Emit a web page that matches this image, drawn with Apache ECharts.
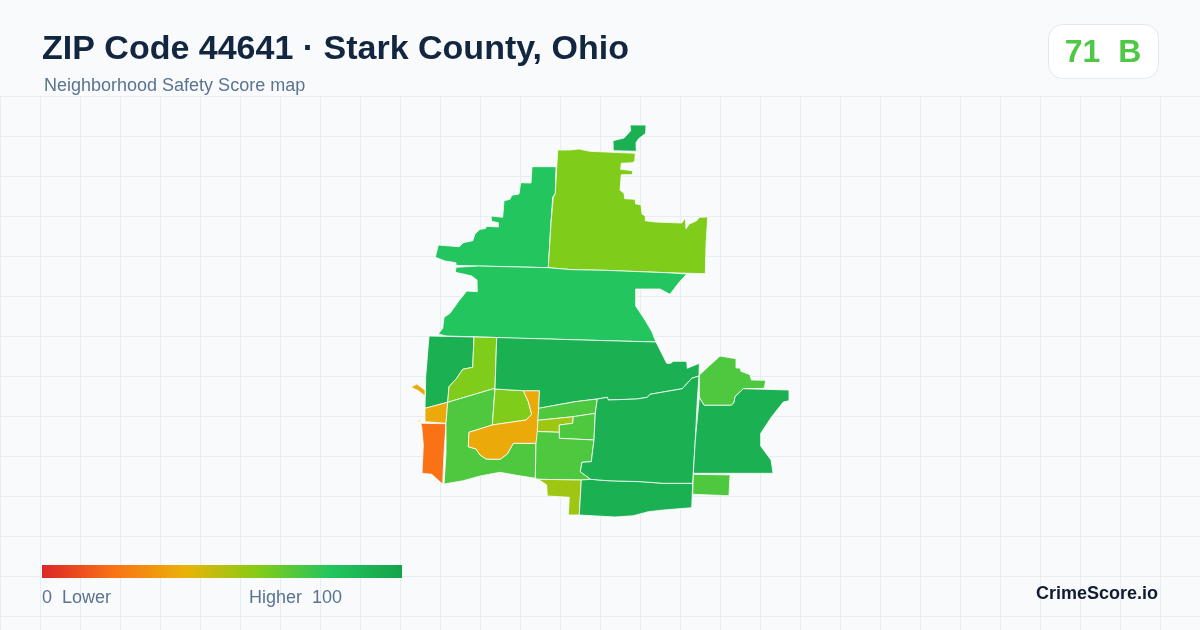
<!DOCTYPE html>
<html>
<head>
<meta charset="utf-8">
<style>html,body{margin:0;padding:0;background:#f8fafc}#c{width:1200px;height:630px}</style>
<script src="https://cdn.jsdelivr.net/npm/echarts@6/dist/echarts.min.js"></script>
</head>
<body>
<div id="c"></div>
<script>
var titleText = 'ZIP Code 44641 · Stark County, Ohio';
var subtitleText = 'Neighborhood Safety Score map';
var badgeText = '71  B';
var brandText = 'CrimeScore.io';
var legendLow = '0  Lower';
var legendHigh = 'Higher  100';
var scaleColors = ['#dc2626', '#f97316', '#eab308', '#84cc16', '#22c55e', '#16a34a'];

// Block-group names and their scores
var regionNames = ['A','B','C','D','E','F','G','H','I','J','K','L','M','N','O','P','Q','R','S','T','U','V'];
var regionScores = [80,61,92,80,92,61,37,20,71,61,37,92,71,55,71,71,55,92,92,71,92,71];

// Outline of each block group, in map units (x east, y south)
var shapeA = [[[[556,166.7],[532,166.7],[531,183],[520.7,182.7],[519,194],[511.7,195.3],[510,199.3],[504,200.7],[502.7,217.3],[491,216],[491.7,221.3],[498.3,222.7],[498.3,227],[486.7,226.3],[485.3,228.7],[480,229.3],[475,234],[472.7,240.7],[463.3,242.7],[459.3,246.7],[453.3,246.3],[438.3,245],[435.3,257.3],[445,261],[456,262.7],[456,265.3],[478.3,266],[506.7,266.7],[548.3,267.7],[550.7,226.7],[552.7,197.3],[555.3,193.3]]]];
var shapeB = [[[[557.7,150],[570,150],[570,149],[579,149],[579,150],[590,151.3],[635.3,153.3],[634.7,160.7],[632.7,162.7],[621.3,163.3],[620.7,169.3],[632.7,170.7],[632.3,174.7],[621.3,174.7],[620,190],[624,193.3],[624.7,198.7],[635,199.3],[635.7,204],[641,204.7],[642,214],[645.3,216],[645.3,220.7],[655,222],[681.7,223],[685.3,218],[686,228.7],[689.3,224],[696.7,220.7],[699.3,217.3],[707.7,217],[706,245],[705.3,273.7],[666.7,272.7],[640,271.7],[605,270.3],[571.7,269.7],[548.3,267.7],[551,223],[553.3,197.3],[555.3,193.3]]]];
var shapeC = [[[[630,125],[646,125],[645.7,133.3],[638.7,138.7],[636,142.7],[636.3,151.3],[613.3,150.7],[613,140.7],[624,138],[630.7,130.7]]]];
var shapeD = [[[[456,267.3],[455.3,272.3],[463.3,274],[471.7,276],[477,280],[477.3,291.7],[466.7,291],[458.3,301.7],[450,313.3],[444,317.3],[442.7,328.3],[438.3,334],[446,336],[475,336.8],[496.7,337.5],[515,338.3],[548.3,339],[600,340.5],[656,342],[652,332],[645,320],[635.7,306],[635.7,289],[660,289],[670,294.3],[678.3,283.3],[686.7,274],[666.7,272.7],[640,271.7],[605,270.3],[571.7,269.7],[548.3,267.7],[506.7,266.7],[478.3,266]]]];
var shapeE = [[[[429,336],[474,337],[472.7,367.3],[462.7,369.3],[456.7,378.3],[449,386.7],[447.7,402.3],[425,408.3],[425.7,376.7]]]];
var shapeF = [[[[474,337],[496.7,337.5],[495,388.3],[447.7,402.3],[449,386.7],[456.7,378.3],[462.7,369.3],[472.7,367.3]]]];
var shapeG = [[[[425,408.3],[447.7,402.3],[446,423.3],[425,421.7]]],[[[411,387.3],[416.7,384],[425,390],[425,396],[418.3,390.7]]],[[[418,421.7],[419.3,419],[420.7,421.7]]]];
var shapeH = [[[[420.7,423.3],[446,423.7],[444,453.3],[442.7,484.3],[431.7,474.3],[422,473.3],[423.3,445],[421.7,426.7]]]];
var shapeI = [[[[447.7,402.3],[495,388.3],[492.3,425],[469,432.3],[468.3,446.7],[476,449],[480,455],[486,459],[500,459.3],[507.3,454],[513.3,443.3],[536,443.3],[535.3,478.3],[515,475],[500,472.3],[480,476],[463.3,480.7],[444,484],[446,453.3],[446,423.3]]]];
var shapeJ = [[[[495,389],[523.3,390.7],[528.3,401.7],[531.7,414.3],[526,420],[492.3,425]]]];
var shapeK = [[[[523.3,390.7],[539.5,390.7],[538.7,408.3],[537.3,435],[536,443.3],[513.3,443.3],[507.3,454],[500,459.3],[486,459],[480,455],[476,449],[468.3,446.7],[469,432.3],[492.3,425],[526,420],[531.7,414.3],[528.3,401.7]]]];
var shapeL = [[[[496.7,337.5],[548.3,339],[600,340.5],[656,342],[666.7,363.3],[670.7,363.3],[673.3,361.3],[686.7,361.3],[687.3,368.3],[699.3,363.3],[699,376],[691.7,378.3],[682.3,388.7],[650,394.3],[647.3,397.3],[636.7,399],[608.3,400],[607.3,397.3],[597.3,399],[575,401.7],[538.7,408.3],[539.5,390.7],[523.3,390.7],[495,389]]]];
var shapeM = [[[[538.7,408.3],[575,401.7],[597.3,399],[595.3,413.3],[573.3,416.7],[537.8,420.3]]]];
var shapeN = [[[[537.8,420.3],[573.3,416.7],[572.7,423.3],[559.3,425],[559.3,432.3],[537.3,431.5]]]];
var shapeO = [[[[573.3,416.7],[595.3,413.3],[594,440],[559.3,438.3],[559.3,425],[572.7,423.3]]]];
var shapeP = [[[[537.3,431.5],[559.3,432.3],[559.3,438.3],[594,440],[591.3,461.7],[582,462.3],[580.3,471.7],[590.7,479.3],[581.3,480],[538.3,479.3],[535.3,478.3],[536,443.3]]]];
var shapeQ = [[[[538.3,479.3],[581.3,480],[579.3,515],[568.3,515],[569.3,497.3],[547.3,496],[546.7,485]]]];
var shapeR = [[[[581.3,480],[590.7,479.3],[608,480.7],[641.7,481.7],[663,483.3],[692.7,483.3],[691.7,507.7],[663.3,510],[648.3,511.7],[633.3,515.7],[615,517],[579.3,515]]]];
var shapeS = [[[[597.3,399],[607.3,397.3],[608.3,400],[636.7,399],[647.3,397.3],[650,394.3],[682.3,388.7],[691.7,378.3],[699,376],[697.3,400],[695.3,440],[693.3,473.3],[692.7,483.3],[663,483.3],[641.7,481.7],[608,480.7],[590.7,479.3],[580.3,471.7],[582,462.3],[591.3,461.7],[594,440],[595.3,413.3]]]];
var shapeT = [[[[699.3,375],[720,356],[736,358.7],[736,368],[740,368],[741,371.3],[750,374.7],[751.3,380],[765.7,380.3],[764.3,388.3],[743.3,388.7],[735,396.7],[734,402.7],[731.3,405.3],[704,405.3],[699.3,397.3]]]];
var shapeU = [[[[699.3,397.3],[704,405.3],[731.3,405.3],[734,402.7],[735,396.7],[743.3,388.7],[789,390],[789,400.7],[783.3,402],[771.7,416.7],[760.7,433.3],[760.7,446],[771,460],[771.7,464],[773,473.3],[740,473.3],[693.3,473.3],[695.3,440]]]];
var shapeV = [[[[693.3,474.3],[735,475],[730,475.5],[729,495.7],[692.7,494.3]]]];
var regionShapes = [shapeA,shapeB,shapeC,shapeD,shapeE,shapeF,shapeG,shapeH,shapeI,shapeJ,shapeK,shapeL,shapeM,shapeN,shapeO,shapeP,shapeQ,shapeR,shapeS,shapeT,shapeU,shapeV];

var features = regionNames.map(function (name, i) {
  return {
    type: 'Feature',
    properties: { name: name },
    geometry: {
      type: 'MultiPolygon',
      coordinates: regionShapes[i].map(function (poly) {
        return poly.map(function (ring) {
          var r = ring.map(function (p) { return [p[0], -p[1]]; });
          r.push(r[0]);
          return r;
        });
      })
    }
  };
});
echarts.registerMap('zip44641', { type: 'FeatureCollection', features: features });

var mapData = regionNames.map(function (n, i) { return { name: n, value: regionScores[i] }; });

var gridColor = '#e6edf3';
var graphics = [];
for (var gx = 0; gx <= 1200; gx += 40) {
  graphics.push({ type: 'line', silent: true, z: -10, shape: { x1: gx + 0.5, y1: 96, x2: gx + 0.5, y2: 630 }, style: { stroke: gridColor, lineWidth: 1 } });
}
for (var gy = 96; gy <= 630; gy += 40) {
  graphics.push({ type: 'line', silent: true, z: -10, shape: { x1: 0, y1: gy + 0.5, x2: 1200, y2: gy + 0.5 }, style: { stroke: gridColor, lineWidth: 1 } });
}
var FONT = '"Liberation Sans", Arial, sans-serif';
function txt(x, y, text, size, weight, color, align) {
  return { type: 'text', silent: true, z: 10, x: x, y: y, style: { text: text, fontFamily: FONT, fontSize: size, fontWeight: weight, fill: color, textAlign: align || 'left', textVerticalAlign: 'middle' } };
}
graphics.push(txt(42, 50, titleText, 34, 'bold', '#13263f'));
graphics.push(txt(44, 86, subtitleText, 18, 'normal', '#5b7390'));
graphics.push({ type: 'rect', silent: true, z: 9, shape: { x: 1048.5, y: 24.5, width: 110, height: 54, r: 14 }, style: { fill: '#ffffff', stroke: '#e2e8f0', lineWidth: 1 } });
graphics.push(txt(1103, 53, badgeText, 32, 'bold', '#4fc945', 'center'));
graphics.push({
  type: 'rect', silent: true, z: 9, shape: { x: 42, y: 565, width: 360, height: 13 },
  style: {
    fill: new echarts.graphic.LinearGradient(0, 0, 1, 0, scaleColors.map(function (c, i) {
      return { offset: i / (scaleColors.length - 1), color: c };
    }))
  }
});
graphics.push(txt(42, 598, legendLow, 18, 'normal', '#5b7390'));
graphics.push(txt(249, 598, legendHigh, 18, 'normal', '#5b7390'));
graphics.push(txt(1158, 594, brandText, 18, 'bold', '#111c2e', 'right'));

var chart = echarts.init(document.getElementById('c'), null, { renderer: 'canvas' });
chart.setOption({
  animation: false,
  backgroundColor: '#f8fafc',
  graphic: { elements: graphics },
  visualMap: {
    type: 'continuous', min: 0, max: 100, seriesIndex: 0, show: false,
    inRange: { color: scaleColors }
  },
  series: [{
    type: 'map', map: 'zip44641', data: mapData, roam: false, aspectScale: 1,
    left: 411, top: 125, width: 378, height: 392, selectedMode: false, silent: true,
    label: { show: false }, emphasis: { disabled: true },
    itemStyle: { borderColor: '#ffffff', borderWidth: 0.8, areaColor: '#cccccc' }
  }]
});
</script>
</body>
</html>
